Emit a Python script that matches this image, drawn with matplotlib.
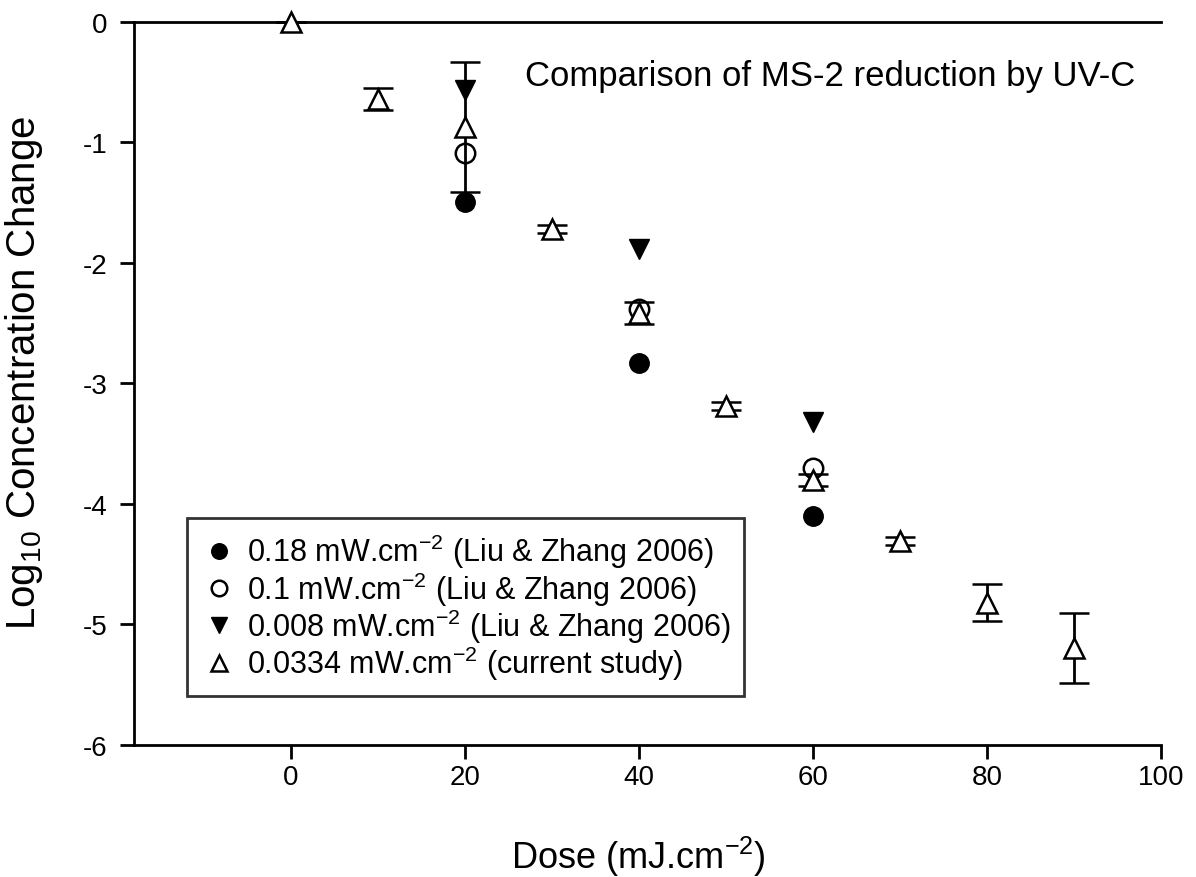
import matplotlib
matplotlib.use("Agg")
import matplotlib.pyplot as plt

plt.rcParams['font.family'] = ['Liberation Sans', 'DejaVu Sans']
plt.rcParams['mathtext.fontset'] = 'custom'
plt.rcParams['mathtext.rm'] = 'Liberation Sans'
plt.rcParams['mathtext.default'] = 'regular'

# Liu & Zhang 2006 data
dose_lz = [20, 40, 60]
lz_018 = [-1.50, -2.83, -4.10]
lz_01 = [-1.09, -2.38, -3.70]
lz_0008 = [-0.57, -1.89, -3.32]

# current study
dose_cs = [0, 10, 20, 30, 40, 50, 60, 70, 80, 90]
cs_mean = [0.0, -0.64, -0.87, -1.72, -2.42, -3.19, -3.80, -4.31, -4.82, -5.20]
cs_err = [0.0, 0.09, 0.54, 0.03, 0.09, 0.03, 0.05, 0.03, 0.155, 0.29]

labels = [r'0.18 mW.cm$^{-2}$ (Liu & Zhang 2006)',
          r'0.1 mW.cm$^{-2}$ (Liu & Zhang 2006)',
          r'0.008 mW.cm$^{-2}$ (Liu & Zhang 2006)',
          r'0.0334 mW.cm$^{-2}$ (current study)']
title = 'Comparison of MS-2 reduction by UV-C'

fig = plt.figure(figsize=(11.96, 8.78), dpi=100)
ax = fig.add_axes([0.1120, 0.1507, 0.9707 - 0.1120, 0.9741 - 0.1507])

ms = 14
h1, = ax.plot(dose_lz, lz_018, 'o', color='black', ms=ms, ls='none', label=labels[0], clip_on=False)
h2, = ax.plot(dose_lz, lz_01, 'o', mfc='white', mec='black', mew=1.8, ms=ms, ls='none', label=labels[1], clip_on=False)
h3, = ax.plot(dose_lz, lz_0008, 'v', color='black', ms=ms, ls='none', label=labels[2], clip_on=False)
eb = ax.errorbar(dose_cs, cs_mean, yerr=cs_err, fmt='^', mfc='white', mec='black', mew=1.8,
                 ms=ms, ecolor='black', elinewidth=2, capsize=11, capthick=2,
                 label=labels[3], clip_on=False, zorder=3)

ax.set_xlim(-18, 100)
ax.set_ylim(-6, 0)
ax.set_xticks([0, 20, 40, 60, 80, 100])
ax.set_yticks([0, -1, -2, -3, -4, -5, -6])
ax.set_yticklabels(['0', '-1', '-2', '-3', '-4', '-5', '-6'])
ax.tick_params(direction='out', length=10, width=2, labelsize=20, pad=9)
ax.tick_params(axis='x', pad=4)
ax.spines['right'].set_visible(False)
for s in ['left', 'bottom', 'top']:
    ax.spines[s].set_linewidth(2)

ax.set_xlabel(r'Dose (mJ.cm$^{-2}$)', fontsize=26)
ax.set_ylabel(r'Log$_{10}$ Concentration Change', fontsize=29)
ax.xaxis.set_label_coords(0.491, -0.123)
ax.yaxis.set_label_coords(-0.087, 0.515)
ax.text(0.975, 0.925, title, transform=ax.transAxes, ha='right', va='center', fontsize=25)

leg_handles = [h1, h2, h3,
               plt.Line2D([], [], marker='^', mfc='white', mec='black', mew=1.8, ms=ms, ls='none')]
leg = ax.legend(leg_handles, labels, loc='lower left', bbox_to_anchor=(0.0516, 0.067),
                fontsize=22, frameon=True, fancybox=False, edgecolor='black',
                borderpad=0.45, handletextpad=0.3, labelspacing=-0.03, handlelength=1.2,
                markerscale=0.8, borderaxespad=0)
leg.get_frame().set_linewidth(2)

fig.savefig('out.png', dpi=100)
